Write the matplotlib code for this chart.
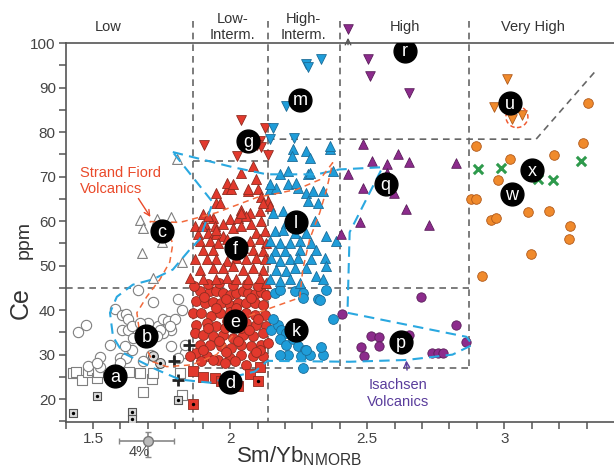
import numpy as np
import matplotlib.pyplot as plt
from matplotlib.patches import Ellipse

plt.rcParams['font.family'] = ['Liberation Sans', 'DejaVu Sans']
plt.rcParams['mathtext.fontset'] = 'custom'
plt.rcParams['mathtext.rm'] = 'Liberation Sans'

# --- data (Sm/Yb_NMORB, Ce ppm) ---
grey_squares = [(1.427, 25.9), (1.438, 26.2), (1.459, 24.3), (1.482, 26.2), (1.496, 26.6),
                (1.513, 24.8), (1.519, 26.0), (1.631, 26.0), (1.671, 25.9), (1.683, 21.7),
                (1.714, 24.5), (1.719, 25.9), (1.817, 25.9), (1.823, 21.0)]
grey_dot_squares = [(1.428, 16.8), (1.513, 20.8), (1.643, 17.2), (1.643, 15.5), (1.810, 19.8)]
grey_circles = [(1.446, 35.0), (1.474, 36.7), (1.525, 29.4), (1.580, 40.3), (1.604, 38.8),
                (1.622, 39.2), (1.628, 37.9), (1.604, 35.6), (1.628, 35.6), (1.641, 36.4),
                (1.647, 33.7), (1.598, 29.2), (1.622, 29.2), (1.665, 44.6), (1.720, 41.8),
                (1.701, 37.0), (1.738, 36.5), (1.756, 37.9), (1.774, 37.5), (1.786, 35.6),
                (1.756, 34.9), (1.798, 37.9), (1.786, 31.9), (1.811, 42.5), (1.823, 40.1),
                (1.695, 33.7), (1.713, 30.0), (1.641, 31.1), (1.562, 32.2), (1.525, 27.3),
                (1.483, 27.5), (1.513, 28.1), (1.616, 31.9), (1.835, 30.4), (1.811, 29.2),
                (1.744, 35.6), (1.780, 36.4), (1.732, 34.1), (1.683, 28.5), (1.598, 28.1),
                (1.671, 37.1), (1.835, 32.2)]
grey_dot_circles = [(1.717, 29.8), (1.744, 28.2)]
grey_triangles = [(1.805, 73.9), (1.671, 60.2), (1.681, 58.5), (1.732, 60.4), (1.783, 61.0),
                  (1.750, 55.3), (1.677, 52.9), (1.823, 50.8), (1.717, 47.2)]
crosses = [(1.851, 32.2), (1.795, 28.6), (1.811, 24.2)]

red_squares = [(1.866, 26.4), (1.902, 24.9), (1.944, 24.7), (1.968, 24.0), (2.011, 24.3),
               (2.029, 22.9), (2.074, 25.7), (2.108, 27.2)]
red_dot_squares = [(2.102, 24.0), (1.865, 18.9)]
red_circles = [(1.889, 44.2), (1.926, 44.2), (1.950, 44.2), (1.974, 43.9), (1.999, 43.5),
               (2.023, 43.9), (2.047, 44.2), (2.066, 43.9), (2.090, 43.7), (2.114, 44.0),
               (2.132, 43.5), (1.877, 42.0), (1.908, 41.6), (1.938, 41.8), (1.968, 41.6),
               (1.999, 41.2), (2.029, 41.6), (2.059, 41.5), (2.090, 41.6), (2.120, 41.2),
               (1.865, 39.4), (1.895, 39.4), (1.932, 38.6), (1.962, 39.4), (2.059, 39.4),
               (2.090, 39.0), (2.126, 39.0), (1.877, 36.7), (1.914, 37.1), (1.950, 36.4),
               (2.059, 37.1), (2.096, 36.7), (2.132, 36.4), (1.871, 34.9), (1.902, 34.5),
               (1.938, 34.1), (1.974, 34.5), (2.011, 33.7), (2.047, 34.5), (2.084, 34.1),
               (2.120, 34.9), (1.889, 32.2), (1.926, 32.2), (1.968, 31.9), (2.005, 31.5),
               (2.041, 32.2), (2.078, 31.9), (2.114, 32.2), (1.877, 30.4), (1.914, 29.6),
               (1.956, 28.9), (1.999, 29.2), (2.041, 30.0), (2.084, 29.6), (2.120, 29.6),
               (1.895, 28.5), (1.938, 28.9), (1.981, 28.1), (2.017, 28.5), (2.059, 27.7),
               (2.108, 31.1), (2.138, 32.6), (1.853, 29.6), (1.990, 37.5), (2.035, 38.5),
               (2.000, 39.5), (1.980, 36.0), (2.040, 36.0), (1.950, 40.5), (2.100, 38.0),
               (1.920, 36.0), (2.070, 35.5), (2.020, 40.5), (1.870, 45.5), (1.920, 45.8),
               (1.960, 46.0), (2.010, 45.6), (2.060, 45.9), (2.100, 45.5), (1.905, 43.0),
               (1.985, 42.6), (2.075, 42.8), (1.960, 33.0), (2.030, 33.0), (1.900, 31.0),
               (2.095, 30.5), (1.985, 30.5)]
red_triangles = [(1.987, 67.1), (2.005, 67.1), (2.066, 66.8), (2.102, 67.1), (1.950, 64.1),
                 (2.114, 65.3), (2.138, 64.5), (2.144, 63.4), (2.041, 62.6), (2.072, 61.9),
                 (2.108, 62.3), (1.902, 61.5), (1.938, 60.8), (1.999, 60.4), (2.029, 60.8),
                 (2.059, 61.1), (1.871, 58.9), (1.908, 59.3), (1.944, 58.9), (1.974, 59.3),
                 (2.011, 58.5), (2.041, 58.9), (2.078, 59.3), (2.114, 60.0), (1.883, 57.0),
                 (1.920, 57.4), (1.950, 57.0), (1.974, 56.6), (2.096, 57.4), (2.126, 57.8),
                 (1.889, 55.5), (1.926, 55.5), (1.956, 55.1), (1.987, 55.9), (2.072, 55.5),
                 (2.108, 55.9), (2.132, 55.1), (1.902, 53.6), (1.938, 53.6), (2.047, 54.0),
                 (2.084, 53.6), (2.120, 53.3), (1.871, 51.4), (1.914, 51.4), (1.950, 51.4),
                 (1.987, 51.0), (2.023, 51.7), (2.059, 51.4), (2.096, 51.7), (2.126, 51.4),
                 (1.938, 49.5), (1.974, 49.5), (2.011, 49.9), (2.047, 49.1), (2.084, 49.5),
                 (2.120, 49.1), (1.889, 49.1), (1.853, 47.2), (1.902, 46.9), (1.950, 46.9),
                 (1.987, 47.2), (2.023, 46.9), (2.066, 46.9), (2.108, 47.2), (2.132, 46.1),
                 (2.038, 70.9), (2.084, 72.4), (1.987, 68.6), (1.950, 66.4), (1.962, 64.1),
                 (2.010, 68.3), (2.096, 69.4), (2.120, 64.1), (2.065, 67.1), (2.041, 61.9),
                 (1.896, 58.9), (1.920, 61.1), (1.950, 58.1)]
red_down = [(2.041, 82.7), (2.126, 80.8), (2.108, 78.0), (2.114, 76.7), (1.906, 77.0),
            (2.025, 74.6), (2.138, 74.8), (2.098, 77.2)]

blue_circles = [(2.163, 43.9), (2.181, 44.6), (2.235, 44.2), (2.266, 43.9), (2.320, 42.4),
                (2.351, 44.6), (2.375, 37.9), (2.150, 35.6), (2.175, 36.7), (2.156, 37.9),
                (2.187, 35.6), (2.205, 34.9), (2.181, 33.4), (2.205, 32.2), (2.229, 33.4),
                (2.248, 31.9), (2.272, 31.1), (2.260, 29.6), (2.211, 30.0), (2.181, 30.0),
                (2.290, 30.0), (2.339, 30.0), (2.333, 31.8), (2.266, 27.0), (2.266, 42.7),
                (2.327, 42.3), (2.278, 31.1)]
blue_triangles = [(2.144, 67.1), (2.169, 67.5), (2.211, 68.3), (2.247, 67.5), (2.278, 66.4),
                  (2.302, 66.8), (2.339, 66.8), (2.284, 64.5), (2.320, 64.1), (2.156, 61.9),
                  (2.193, 62.3), (2.205, 59.6), (2.308, 60.0), (2.163, 57.8), (2.193, 58.1),
                  (2.235, 57.4), (2.278, 57.4), (2.351, 56.6), (2.387, 55.5), (2.144, 55.5),
                  (2.181, 55.1), (2.217, 55.1), (2.254, 55.5), (2.296, 55.1), (2.163, 53.3),
                  (2.199, 53.3), (2.254, 53.6), (2.314, 53.6), (2.150, 51.7), (2.181, 51.0),
                  (2.217, 51.4), (2.247, 51.7), (2.296, 51.4), (2.345, 51.7), (2.169, 49.1),
                  (2.205, 48.7), (2.235, 49.5), (2.278, 49.5), (2.351, 49.9), (2.314, 47.6),
                  (2.144, 46.9), (2.181, 46.5), (2.217, 46.9), (2.254, 46.1), (2.339, 46.9),
                  (2.229, 76.1), (2.227, 74.6), (2.278, 75.8), (2.292, 74.2), (2.363, 76.3),
                  (2.181, 70.5), (2.211, 71.3), (2.284, 70.5), (2.375, 71.3), (2.144, 68.3),
                  (2.242, 68.6), (2.363, 76.9), (2.290, 70.9)]
blue_down = [(2.275, 95.3), (2.285, 94.6), (2.333, 96.3), (2.203, 85.9), (2.156, 81.0),
             (2.147, 78.4), (2.232, 78.6)]

purple_circles = [(2.409, 39.2), (2.697, 43.0), (2.824, 36.7), (2.515, 34.1), (2.543, 33.9),
                  (2.543, 31.9), (2.478, 31.7), (2.490, 29.8), (2.652, 34.5), (2.737, 30.4),
                  (2.757, 30.4), (2.776, 30.4), (2.861, 32.8)]
purple_triangles = [(2.484, 77.3), (2.612, 75.0), (2.652, 73.3), (2.518, 73.5), (2.572, 72.8),
                    (2.430, 70.5), (2.572, 70.9), (2.596, 66.4), (2.484, 67.5), (2.642, 62.8),
                    (2.472, 59.8), (2.727, 59.2), (2.824, 73.0), (2.405, 57.0)]
purple_down = [(2.430, 103.2), (2.503, 96.3), (2.509, 92.7), (2.654, 88.7)]

orange_circles = [(2.897, 76.9), (3.021, 74.0), (3.182, 74.8), (3.288, 77.5), (3.307, 86.5),
                  (2.976, 69.2), (2.879, 64.9), (2.897, 64.9), (2.952, 60.2), (2.970, 60.7),
                  (3.085, 62.1), (3.162, 62.3), (3.239, 59.0), (3.237, 56.0), (2.919, 47.6),
                  (3.097, 52.7)]
orange_down = [(3.009, 91.9), (2.964, 85.7), (3.028, 82.9), (3.064, 83.8)]
green_x = [(2.903, 71.6), (2.988, 72.0), (3.122, 69.4), (3.176, 69.2), (3.279, 73.4)]

group_letters = ['a', 'b', 'c', 'd', 'e', 'f', 'g', 'k', 'l', 'm', 'p', 'q', 'r', 'u', 'w', 'x']
letter_x = [1.580, 1.695, 1.750, 1.999, 2.017, 2.020, 2.066, 2.241, 2.241, 2.256,
            2.624, 2.567, 2.636, 3.021, 3.028, 3.101]
letter_y = [25.2, 34.2, 57.7, 23.8, 37.5, 54.0, 78.0, 35.6, 59.8, 87.3,
            32.8, 68.3, 98.3, 86.5, 66.0, 71.5]

class_names = ['Low', 'Low-\nInterm.', 'High-\nInterm.', 'High', 'Very High']
class_x = [1.556, 2.010, 2.268, 2.636, 3.103]
class_bounds = [1.864, 2.138, 2.40, 2.873]

isachsen = [(1.791, 75.5), (2.010, 72.1), (2.134, 70.5), (2.316, 70.5), (2.399, 71.6),
            (2.556, 72.1), (2.436, 57.5), (2.428, 39.4), (2.862, 34.0), (2.884, 32.2),
            (2.811, 30.0), (2.643, 28.8), (2.436, 28.4), (2.137, 28.6), (2.090, 26.2),
            (1.926, 23.7), (1.817, 24.4), (1.733, 26.6), (1.609, 30.4), (1.573, 34.0),
            (1.562, 39.4), (1.587, 43.0), (1.645, 45.7), (1.718, 46.9), (1.791, 49.1),
            (1.853, 53.6), (1.889, 55.9), (1.937, 64.2), (1.791, 75.5)]
strand_fiord = [(1.707, 59.9), (1.817, 59.7), (1.951, 61.9), (2.097, 65.3), (2.243, 67.1),
                (2.327, 69.3), (2.374, 73.1), (2.352, 67.1), (2.327, 61.9), (2.290, 55.9),
                (2.265, 49.1), (2.254, 42.8), (2.181, 41.2), (2.072, 38.8), (1.951, 30.0),
                (1.860, 27.7), (1.769, 27.3), (1.718, 28.4), (1.671, 34.5), (1.660, 39.4),
                (1.696, 43.0), (1.744, 46.9), (1.780, 50.8), (1.791, 54.8), (1.773, 58.2),
                (1.707, 59.9)]

# 4% analytical error cross drawn below the axis
err_x, err_y = 1.699, 10.5
err_xerr = [[0.103], [0.096]]
err_yerr = [[3.4], [2.2]]

RED, RED_E = '#e2392d', '#8e2c20'
BLUE, BLUE_E = '#1f9dd9', '#1b6c98'
PURP, PURP_E = '#8c2b8c', '#5a1d5a'
ORNG, ORNG_E = '#f08a2c', '#b0591a'
GREY = '#7f7f7f'
GUIDE = '#666666'


def pts(ax, data, **kw):
    a = np.asarray(data)
    return ax.scatter(a[:, 0], a[:, 1], **kw)


fig = plt.figure(figsize=(6.14, 4.71), dpi=100)
ax = fig.add_axes([0.1068, 0.1034, 0.8932, 0.8053])
ax.set_xlim(1.4, 3.4)
ax.set_ylim(14.8, 100)

# guide lines of the classification boxes
dash = (0, (4, 3))
gl = dict(color=GUIDE, lw=1.2, ls=dash, zorder=1, clip_on=False)
ax.plot([class_bounds[0]] * 2, [105.0, 14.8], **gl)
ax.plot([class_bounds[1]] * 2, [105.0, 14.8], **gl)
ax.plot([class_bounds[2]] * 2, [105.0, 27.0], **gl)
ax.plot([class_bounds[3]] * 2, [105.0, 27.0], **gl)
ax.plot([1.4, class_bounds[3]], [45, 45], **gl)
ax.plot([class_bounds[0], class_bounds[3]], [27, 27], **gl)
ax.plot([class_bounds[0], class_bounds[1]], [73.5, 73.5], **gl)
ax.plot([class_bounds[1], 3.116, 3.334], [78.4, 78.4, 93.8], **gl)

# grey (low) groups
open_kw = dict(facecolor='white', edgecolors=GREY, linewidths=0.8, zorder=3)
pts(ax, grey_squares, marker='s', s=45, **open_kw)
pts(ax, grey_circles, marker='o', s=55, **open_kw)
pts(ax, grey_triangles, marker='^', s=50, **open_kw)
pts(ax, grey_dot_squares, marker='s', s=40, facecolor='#d9d9d9', edgecolors='#555', linewidths=0.8, zorder=3)
pts(ax, grey_dot_squares, marker='.', s=8, color='black', zorder=4)
pts(ax, grey_dot_circles, marker='o', s=50, facecolor='#d9d9d9', edgecolors='#555', linewidths=0.8, zorder=3)
pts(ax, grey_dot_circles, marker='.', s=8, color='black', zorder=4)
pts(ax, crosses, marker='+', s=80, color='#222', linewidths=2, zorder=3)

# red (Strand Fiord, low-intermediate)
red_kw = dict(facecolor=RED, edgecolors=RED_E, linewidths=0.6, zorder=3)
pts(ax, red_circles, marker='o', s=50, **red_kw)
pts(ax, red_triangles, marker='^', s=52, **red_kw)
pts(ax, red_down, marker='v', s=50, **red_kw)
pts(ax, red_squares, marker='s', s=42, **red_kw)
pts(ax, red_dot_squares, marker='s', s=42, **red_kw)
pts(ax, red_dot_squares, marker='.', s=8, color='black', zorder=4)

# blue (high-intermediate)
blue_kw = dict(facecolor=BLUE, edgecolors=BLUE_E, linewidths=0.6, zorder=3)
pts(ax, blue_circles, marker='o', s=50, **blue_kw)
pts(ax, blue_triangles, marker='^', s=52, **blue_kw)
pts(ax, blue_down, marker='v', s=50, **blue_kw)

# purple (high)
purp_kw = dict(facecolor=PURP, edgecolors=PURP_E, linewidths=0.6, zorder=3)
pts(ax, purple_circles, marker='o', s=45, **purp_kw)
pts(ax, purple_triangles, marker='^', s=48, **purp_kw)
pts(ax, purple_down, marker='v', s=48, clip_on=False, **purp_kw)

# orange / green (very high)
orng_kw = dict(facecolor=ORNG, edgecolors=ORNG_E, linewidths=0.6, zorder=3)
pts(ax, orange_circles, marker='o', s=48, **orng_kw)
pts(ax, orange_down, marker='v', s=48, **orng_kw)
pts(ax, green_x, marker='x', s=45, color='#2e9a4c', linewidths=2.2, zorder=3)

# field outlines
iz = np.asarray(isachsen)
ax.plot(iz[:, 0], iz[:, 1], color='#2aa8e0', lw=1.5, ls=(0, (5, 3)), zorder=5)
sf = np.asarray(strand_fiord)
ax.plot(sf[:, 0], sf[:, 1], color='#f26a3c', lw=1.1, ls=(0, (4, 3)), zorder=5)
ax.add_patch(Ellipse((3.046, 83.4), 0.08, 4.8, fill=False, ec='#f05a30', lw=1.1,
                     ls=(0, (3, 2)), zorder=5))

# group letters
ax.scatter(letter_x, letter_y, s=270, color='black', zorder=7)
for lt, lx, ly in zip(group_letters, letter_x, letter_y):
    ax.text(lx, ly - 0.3, lt, color='white', fontsize=13, ha='center', va='center', zorder=8)

# class headers above the frame
for name, cx in zip(class_names, class_x):
    ax.text(cx, 103.6, name, ha='center', va='center', fontsize=10.5, color='#333',
            linespacing=1.2, clip_on=False)

# annotations
ax.text(1.452, 69.0, 'Strand Fiord\nVolcanics', color='#ea4a2a', fontsize=10.5,
        ha='left', va='center', linespacing=1.25)
ax.annotate('', xy=(1.715, 60.4), xytext=(1.660, 65.6),
            arrowprops=dict(arrowstyle='->', color='#ea4a2a', lw=1))
ax.text(2.611, 21.2, 'Isachsen\nVolcanics', color='#5a3d9c', fontsize=10.5,
        ha='center', va='center', linespacing=1.25)
ax.annotate('', xy=(2.642, 29.3), xytext=(2.646, 25.9),
            arrowprops=dict(arrowstyle='->', color='#5a3d9c', lw=1))
ax.annotate('', xy=(2.430, 101.8), xytext=(2.430, 99.0), annotation_clip=False,
            arrowprops=dict(arrowstyle='->', color='#555', lw=1))

eb = ax.errorbar([err_x], [err_y], xerr=err_xerr, yerr=err_yerr, fmt='o', ms=7,
                 mfc='#bbbbbb', mec='#777', color='#888', lw=1.2, capsize=2.5)
for art in eb.get_children():
    art.set_clip_on(False)
ax.text(1.668, 8.2, '4%', fontsize=10.5, color='#444', ha='center', va='center')

# axes styling
for side in ['left', 'bottom', 'top']:
    ax.spines[side].set_color('#555')
    ax.spines[side].set_linewidth(1.2)
ax.spines['right'].set_visible(False)
ax.set_xticks([1.5, 2, 2.5, 3], ['1.5', '2', '2.5', '3'])
ax.set_xticks(np.arange(1.4, 3.35, 0.1), minor=True)
ax.set_yticks(range(20, 101, 10))
ax.set_yticks(range(15, 100, 10), minor=True)
ax.tick_params(which='both', direction='out', length=5, width=1.1, color='#555',
               labelsize=11, labelcolor='#444', pad=2)

fig.text(0.034, 0.357, 'Ce', rotation=90, fontsize=18, color='#333', ha='center', va='center')
fig.text(0.040, 0.490, 'ppm', rotation=90, fontsize=14, color='#333', ha='center', va='center')
fig.text(0.384, 0.032, r'Sm/Yb$_{\mathrm{NMORB}}$', fontsize=16, color='#333',
         ha='left', va='center')

fig.savefig('out.png', dpi=100)
